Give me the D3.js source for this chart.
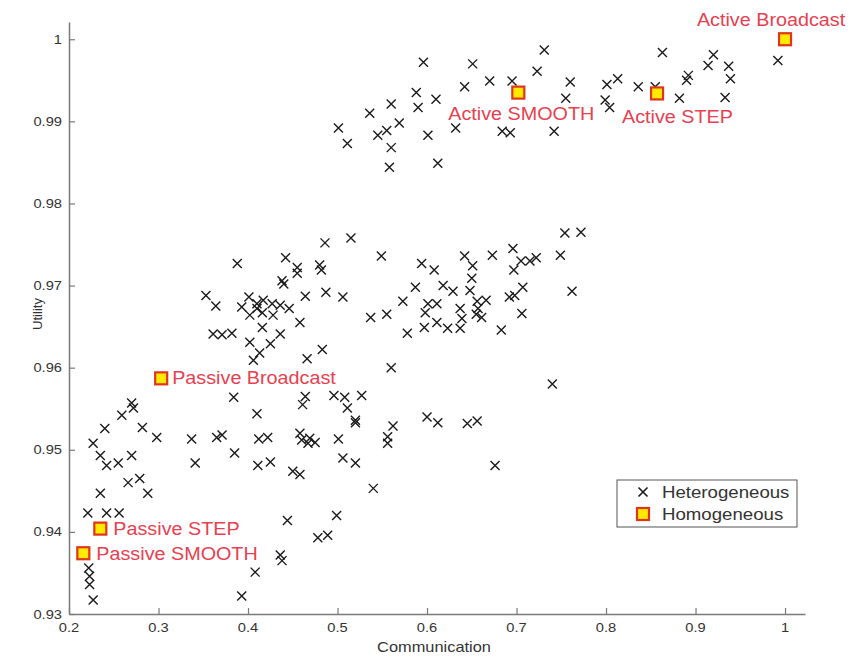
<!DOCTYPE html>
<html>
<head>
<meta charset="utf-8">
<script src="https://cdn.jsdelivr.net/npm/d3@7"></script>
<style>
  body { margin: 0; background: #fff; }
  svg { display: block; font-family: "Liberation Sans", Arial, sans-serif; }
</style>
</head>
<body>
<svg></svg>
<script>
const width = 854;
const height = 657;

// tick labels
const xTicks = [0.2, 0.3, 0.4, 0.5, 0.6, 0.7, 0.8, 0.9, 1];
const yTicks = [0.93, 0.94, 0.95, 0.96, 0.97, 0.98, 0.99, 1];

// Heterogeneous runs
const heteroX = [
  0.501, 0.511, 0.536, 0.560, 0.569, 0.545, 0.555, 0.560, 0.558, 0.596,
  0.588, 0.590, 0.610, 0.601, 0.612, 0.632, 0.651, 0.642, 0.670, 0.695,
  0.684, 0.693, 0.731, 0.723, 0.742, 0.760, 0.755, 0.801, 0.813, 0.804,
  0.799, 0.836, 0.855, 0.863, 0.882, 0.892, 0.890, 0.920, 0.914, 0.937,
  0.939, 0.933, 0.992,
  0.388, 0.442, 0.455, 0.455, 0.438, 0.440, 0.480, 0.482, 0.486, 0.515,
  0.549, 0.487, 0.506, 0.464, 0.353, 0.364, 0.393, 0.401, 0.410, 0.417,
  0.410, 0.402, 0.416, 0.427, 0.436, 0.446, 0.428, 0.458, 0.416, 0.436,
  0.361, 0.371, 0.382, 0.402, 0.425, 0.413, 0.406, 0.466, 0.483, 0.537,
  0.555, 0.573, 0.587, 0.594, 0.608, 0.618, 0.629, 0.601, 0.611, 0.598,
  0.578, 0.597, 0.611, 0.623, 0.637, 0.637, 0.639, 0.642, 0.651, 0.650,
  0.648, 0.656, 0.657, 0.655, 0.661, 0.666, 0.673, 0.696, 0.705, 0.697,
  0.715, 0.722, 0.707, 0.692, 0.698, 0.706, 0.683, 0.560, 0.754, 0.772,
  0.749, 0.762, 0.740,
  0.384, 0.464, 0.461, 0.496, 0.508, 0.527, 0.511, 0.410, 0.520, 0.270,
  0.272, 0.259, 0.240, 0.282, 0.562, 0.556, 0.556, 0.600, 0.612, 0.645,
  0.656, 0.227, 0.298, 0.235, 0.242, 0.255, 0.270, 0.266, 0.279, 0.235,
  0.288, 0.221, 0.242, 0.256, 0.222, 0.223, 0.223, 0.227, 0.337, 0.341,
  0.365, 0.371, 0.385, 0.412, 0.422, 0.411, 0.425, 0.458, 0.460, 0.467,
  0.469, 0.475, 0.450, 0.458, 0.444, 0.436, 0.438, 0.408, 0.393, 0.499,
  0.478, 0.489, 0.501, 0.506, 0.520, 0.520, 0.540, 0.676
];
const heteroY = [
  0.9892, 0.9873, 0.9910, 0.9921, 0.9898, 0.9883, 0.9889, 0.9868, 0.9844, 0.9972,
  0.9935, 0.9917, 0.9927, 0.9883, 0.9849, 0.9892, 0.9970, 0.9942, 0.9949, 0.9949,
  0.9888, 0.9886, 0.9987, 0.9961, 0.9888, 0.9948, 0.9928, 0.9945, 0.9952, 0.9917,
  0.9926, 0.9942, 0.9942, 0.9984, 0.9928, 0.9956, 0.9950, 0.9981, 0.9968, 0.9967,
  0.9952, 0.9929, 0.9974,
  0.9727, 0.9734, 0.9722, 0.9715, 0.9706, 0.9702, 0.9725, 0.9719, 0.9752, 0.9758,
  0.9736, 0.9692, 0.9686, 0.9687, 0.9688, 0.9675, 0.9674, 0.9686, 0.9678, 0.9682,
  0.9672, 0.9664, 0.9667, 0.9678, 0.9676, 0.9672, 0.9664, 0.9655, 0.9649, 0.9641,
  0.9641, 0.9640, 0.9642, 0.9631, 0.9629, 0.9618, 0.9609, 0.9611, 0.9622, 0.9661,
  0.9665, 0.9681, 0.9698, 0.9727, 0.9719, 0.9700, 0.9693, 0.9678, 0.9678, 0.9667,
  0.9642, 0.9649, 0.9655, 0.9648, 0.9648, 0.9672, 0.9660, 0.9736, 0.9724, 0.9709,
  0.9694, 0.9681, 0.9672, 0.9665, 0.9661, 0.9682, 0.9737, 0.9745, 0.9730, 0.9719,
  0.9730, 0.9734, 0.9698, 0.9686, 0.9688, 0.9666, 0.9646, 0.9600, 0.9764, 0.9765,
  0.9737, 0.9693, 0.9580,
  0.9564, 0.9565, 0.9555, 0.9566, 0.9564, 0.9566, 0.9551, 0.9544, 0.9536, 0.9557,
  0.9551, 0.9542, 0.9526, 0.9527, 0.9529, 0.9516, 0.9508, 0.9540, 0.9533, 0.9532,
  0.9535, 0.9508, 0.9515, 0.9493, 0.9481, 0.9484, 0.9493, 0.9460, 0.9465, 0.9447,
  0.9447, 0.9423, 0.9423, 0.9423, 0.9356, 0.9346, 0.9336, 0.9317, 0.9513, 0.9484,
  0.9515, 0.9518, 0.9496, 0.9513, 0.9515, 0.9481, 0.9485, 0.9520, 0.9512, 0.9508,
  0.9514, 0.9509, 0.9474, 0.9470, 0.9414, 0.9372, 0.9365, 0.9351, 0.9322, 0.9420,
  0.9393, 0.9396, 0.9513, 0.9490, 0.9484, 0.9533, 0.9453, 0.9481
];

// Homogeneous runs
const homoNames = ["Active Broadcast", "Active SMOOTH", "Active STEP",
  "Passive Broadcast", "Passive STEP", "Passive SMOOTH"];
const homoX = [1.0, 0.702, 0.857, 0.303, 0.235, 0.216];
const homoY = [1.0, 0.9935, 0.9934, 0.9587, 0.9404, 0.9374];

// label placement relative to the marker (pixels)
const labelPos = {
  "Active Broadcast": { dx: -14, dy: -13, anchor: "middle" },
  "Active SMOOTH": { dx: 3, dy: 27, anchor: "middle" },
  "Active STEP": { dx: -35, dy: 30, anchor: "start" },
  "Passive Broadcast": { dx: 11, dy: 6, anchor: "start" },
  "Passive STEP": { dx: 13, dy: 6, anchor: "start" },
  "Passive SMOOTH": { dx: 13, dy: 7, anchor: "start" }
};

const labelRed = "#e8404f";
const axisGrey = "#7a7a7a";
const stretch = 1.13; // text in the figure is a bit wide

const svg = d3.select("svg").attr("width", width).attr("height", height);

const x = d3.scaleLinear().domain([0.2, 1.0223]).range([69, 805]);
const y = d3.scaleLinear().domain([0.93, 1.0021]).range([614, 22]);

// helper: text that is stretched horizontally around its anchor point
function wideText(parent, px, py, str, size, anchor) {
  return parent.append("text")
    .attr("transform", `translate(${px},${py}) scale(${stretch},1)`)
    .attr("text-anchor", anchor)
    .style("font-size", size + "px")
    .text(str);
}

// Axes
const xAxis = svg.append("g")
  .attr("transform", `translate(0,${y(0.93)})`)
  .call(d3.axisBottom(x).tickValues(xTicks).tickSizeInner(-6).tickSizeOuter(0)
    .tickFormat(d3.format("~g")));
const yAxis = svg.append("g")
  .attr("transform", `translate(${x(0.2)},0)`)
  .call(d3.axisLeft(y).tickValues(yTicks).tickSizeInner(-6).tickSizeOuter(0)
    .tickFormat(d3.format("~g")));

[xAxis, yAxis].forEach((g) => {
  g.select(".domain").attr("stroke", axisGrey).attr("stroke-width", 1.5);
  g.selectAll(".tick line").attr("stroke", axisGrey).attr("stroke-width", 1.2);
  g.selectAll(".tick text").remove();
});

// tick labels drawn by hand so they can be widened like the original
xTicks.forEach((t) => {
  wideText(svg, x(t), 632, d3.format("~g")(t), 13, "middle").attr("fill", "#333");
});
yTicks.forEach((t) => {
  wideText(svg, 62, y(t) + 4.5, d3.format("~g")(t), 13, "end").attr("fill", "#333");
});

// Axis titles
wideText(svg, 434, 652, "Communication", 14.5, "middle").attr("fill", "#333");
svg.append("text")
  .attr("transform", `translate(42,314) rotate(-90)`)
  .attr("text-anchor", "middle")
  .style("font-size", "13px")
  .attr("fill", "#333")
  .text("Utility");

// Heterogeneous crosses
const hetero = heteroX.map((v, i) => ({ x: v, y: heteroY[i] }));
const crossPath = "M-4.5,-4.5L4.5,4.5M-4.5,4.5L4.5,-4.5";
svg.append("g")
  .selectAll("path")
  .data(hetero)
  .join("path")
  .attr("transform", (d) => `translate(${x(d.x)},${y(d.y)})`)
  .attr("d", crossPath)
  .attr("stroke", "#1a1a1a")
  .attr("stroke-width", 1.4)
  .attr("fill", "none");

// Homogeneous squares
const homo = homoNames.map((n, i) => ({ name: n, x: homoX[i], y: homoY[i] }));
svg.append("g")
  .selectAll("rect")
  .data(homo)
  .join("rect")
  .attr("x", (d) => x(d.x) - 6)
  .attr("y", (d) => y(d.y) - 6)
  .attr("width", 12)
  .attr("height", 12)
  .attr("fill", "#ffea00")
  .attr("stroke", "#e0341c")
  .attr("stroke-width", 2.2);

// Labels with white background
homo.forEach((d) => {
  const p = labelPos[d.name];
  const g = svg.append("g")
    .attr("transform", `translate(${x(d.x) + p.dx},${y(d.y) + p.dy}) scale(${stretch},1)`);
  const bg = g.append("rect").attr("fill", "#fff");
  const t = g.append("text")
    .attr("text-anchor", p.anchor)
    .style("font-size", "17.5px")
    .attr("fill", labelRed)
    .text(d.name);
  const b = t.node().getBBox();
  bg.attr("x", b.x - 1).attr("y", b.y + 1).attr("width", b.width + 2).attr("height", b.height - 2);
});

// Legend
const legend = svg.append("g");
legend.append("rect")
  .attr("x", 617).attr("y", 480).attr("width", 180).attr("height", 47)
  .attr("fill", "#fff").attr("stroke", "#555").attr("stroke-width", 1);
legend.append("path")
  .attr("transform", "translate(643,492)")
  .attr("d", crossPath)
  .attr("stroke", "#1a1a1a").attr("stroke-width", 1.6).attr("fill", "none");
legend.append("rect")
  .attr("x", 637).attr("y", 508).attr("width", 12).attr("height", 12)
  .attr("fill", "#ffea00").attr("stroke", "#e0341c").attr("stroke-width", 2.2);
wideText(legend, 662, 498, "Heterogeneous", 16.5, "start").attr("fill", "#333");
wideText(legend, 662, 520, "Homogeneous", 16.5, "start").attr("fill", "#333");
</script>
</body>
</html>
